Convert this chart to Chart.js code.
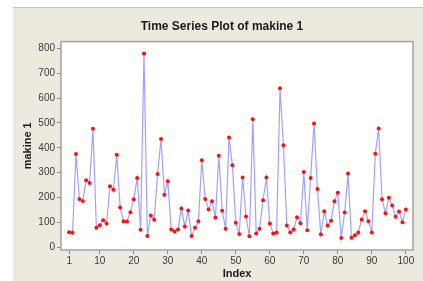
<!DOCTYPE html>
<html>
<head>
<meta charset="utf-8">
<script src="https://cdn.jsdelivr.net/npm/chart.js@4.4.1/dist/chart.umd.min.js"></script>
<style>
  html, body { margin: 0; padding: 0; background: #fff; }
  #wrap { position: absolute; left: 0; top: 0; width: 423px; height: 281px; }
</style>
</head>
<body>
<div id="wrap"><canvas id="tsChart" width="423" height="281"></canvas></div>
<script>
// makine 1, observations 1..100
const makine1 = [
  60, 58, 375, 194, 186, 269, 258, 477, 78, 88,
  108, 95, 245, 231, 372, 159, 104, 103, 140, 193,
  278, 70, 780, 44, 127, 110, 294, 435, 211, 265,
  71, 63, 71, 155, 83, 147, 44, 78, 104, 350,
  194, 151, 185, 119, 368, 146, 74, 441, 330, 98,
  52, 280, 123, 43, 515, 55, 74, 189, 280, 95,
  55, 59, 640, 410, 87, 59, 71, 120, 96, 302,
  68, 278, 498, 234, 51, 144, 87, 106, 185, 219,
  36, 139, 296, 37, 47, 59, 111, 144, 104, 59,
  376, 478, 193, 136, 199, 167, 122, 143, 100, 151
];
const xTicks = [1, 10, 20, 30, 40, 50, 60, 70, 80, 90, 100];
const yTicks = [0, 100, 200, 300, 400, 500, 600, 700, 800];

const points = makine1.map((v, i) => ({ x: i + 1, y: v }));

// beige frame + plot box
const frame = {
  id: 'frame',
  beforeDraw(chart) {
    const c = chart.ctx;
    c.save();
    c.fillStyle = '#fff';
    c.fillRect(0, 0, chart.width, chart.height);
    c.fillStyle = '#ece9df';
    c.fillRect(13, 7, chart.width - 13, chart.height - 7);
    c.fillStyle = '#c8c5bd';
    c.fillRect(13, 7, chart.width - 13, 1);
    const a = chart.chartArea;
    c.fillStyle = '#fff';
    c.fillRect(a.left, a.top, a.right - a.left, a.bottom - a.top);
    c.restore();
  },
  afterDatasetsDraw(chart) {
    const c = chart.ctx;
    const a = chart.chartArea;
    c.save();
    c.strokeStyle = '#a3a3a3';
    c.lineWidth = 1.5;
    c.strokeRect(a.left, a.top, a.right - a.left, a.bottom - a.top);
    c.restore();
  }
};

const tickFont = { family: 'Liberation Sans', size: 10 };

new Chart(document.getElementById('tsChart').getContext('2d'), {
  type: 'line',
  data: {
    datasets: [{
      label: 'makine 1',
      data: points,
      borderColor: 'rgba(130,130,255,0.75)',
      borderWidth: 1.2,
      pointBackgroundColor: '#ff1010',
      pointBorderColor: '#ff1010',
      pointRadius: 2,
      pointBorderWidth: 0,
      tension: 0
    }]
  },
  options: {
    responsive: false,
    animation: false,
    layout: { padding: { left: 21, top: 7, right: 0, bottom: 0 } },
    plugins: {
      legend: { display: false },
      tooltip: { enabled: false },
      title: {
        display: true,
        text: 'Time Series Plot of makine 1',
        color: '#1a1a1a',
        font: { family: 'Liberation Sans', size: 12, weight: 'bold' },
        padding: { top: 12, bottom: 8.2 }
      }
    },
    scales: {
      x: {
        type: 'linear',
        min: -1.4,
        max: 102.1,
        afterBuildTicks: s => { s.ticks = xTicks.map(v => ({ value: v })); },
        afterFit: s => { s.height = 31; },
        grid: { drawOnChartArea: false, drawTicks: true, tickLength: 4, color: '#8a8a8a' },
        border: { display: false },
        ticks: { color: '#3a3a3a', font: tickFont, padding: 1, maxRotation: 0, autoSkip: false },
        title: {
          display: true,
          text: 'Index',
          color: '#1a1a1a',
          font: { family: 'Liberation Sans', size: 11, weight: 'bold' },
          padding: { top: 0, bottom: 0 }
        }
      },
      y: {
        min: -12,
        max: 828,
        afterBuildTicks: s => { s.ticks = yTicks.map(v => ({ value: v })); },
        afterFit: s => { s.width = 40; },
        grid: { drawOnChartArea: false, drawTicks: true, tickLength: 4, color: '#8a8a8a' },
        border: { display: false },
        ticks: { color: '#3a3a3a', font: tickFont, padding: 2 },
        title: {
          display: true,
          text: 'makine 1',
          color: '#1a1a1a',
          font: { family: 'Liberation Sans', size: 11, weight: 'bold' },
          padding: { top: 0, bottom: 0 }
        }
      },
      // empty right-hand strip, keeps the plot box off the frame edge
      yRight: {
        position: 'right',
        min: 0,
        max: 1,
        afterFit: s => { s.width = 10; },
        grid: { display: false },
        border: { display: false },
        ticks: { display: false }
      }
    }
  },
  plugins: [frame]
});
</script>
</body>
</html>
